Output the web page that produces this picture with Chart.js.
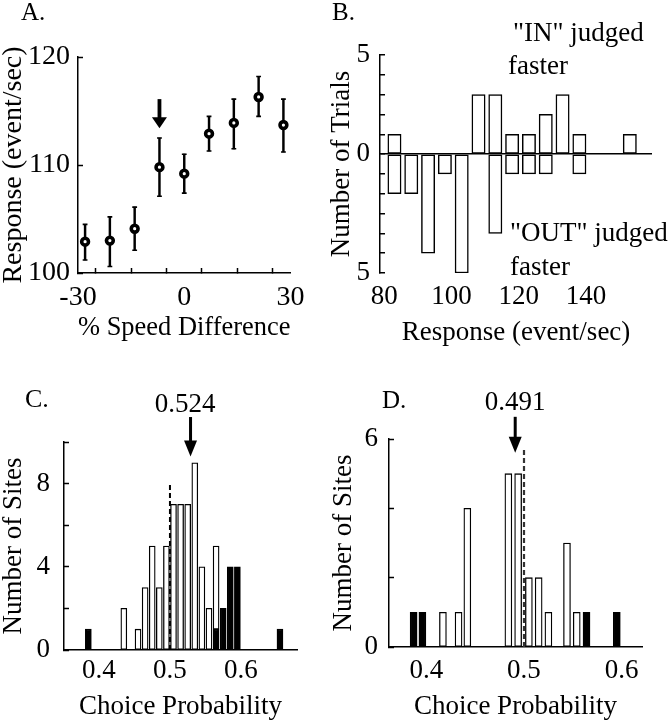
<!DOCTYPE html>
<html><head><meta charset="utf-8">
<script src="https://cdn.jsdelivr.net/npm/chart.js@4.4.1/dist/chart.umd.min.js"></script>
<style>
html,body{margin:0;padding:0;background:#fff;}
body{width:670px;height:720px;position:relative;overflow:hidden;}
canvas{position:absolute;}
</style></head><body>
<canvas id="cA" width="320" height="360" style="left:0px;top:0px"></canvas>
<canvas id="cB" width="345" height="360" style="left:325px;top:0px"></canvas>
<canvas id="cC" width="335" height="350" style="left:0px;top:370px"></canvas>
<canvas id="cD" width="340" height="350" style="left:330px;top:370px"></canvas>
<script>
// ---------- Panel A: response vs % speed difference ----------
const speedDiff     = [-28, -21, -14, -7, 0, 7, 14, 21, 28];
const responseMean  = [102.9, 103.0, 104.1, 109.8, 109.2, 112.9, 113.9, 116.3, 113.7];
const responseLow   = [101.2, 100.6, 102.1, 107.1, 107.4, 111.3, 111.5, 114.5, 111.2];
const responseHigh  = [104.5, 105.2, 106.1, 112.5, 111.0, 114.5, 116.1, 118.2, 116.1];
const xTicksA       = [-30, -20, -10, 0, 10, 20, 30];
const xTickLabelsA  = ['-30', '', '', '0', '', '', '30'];
const yTicksA       = [100, 110, 120];
const yTickLabelsA  = ['100', '110', '120'];
const arrowA        = [-7, 116.1, 113.4];          // x, start, tip

// ---------- Panel B: trials histogram ----------
const responseBins  = [83, 88, 93, 98, 103, 108, 113, 118, 123, 128, 133, 138, 153];
const inFaster      = [1, 0, 0, 0, 0, 3, 3, 1, 1, 2, 3, 1, 1];
const outFaster     = [-2, -2, -5, -1, -6, 0, -4, -1, -1, -1, 0, -1, 0];
const xTicksB       = [80, 100, 120, 140];
const xTickLabelsB  = ['80', '100', '120', '140'];
const yTicksB       = [-6, -5, -4, -3, -2, -1, 0, 1, 2, 3, 4, 5];
const yTickLabelsB  = ['5', '', '', '', '', '', '0', '', '', '', '', '5'];

// ---------- Panel C: choice probability ----------
const cpBinsC       = [0.385, 0.435, 0.455, 0.465, 0.475, 0.485, 0.495, 0.505, 0.515, 0.525, 0.535, 0.545, 0.555, 0.565, 0.575, 0.585, 0.595, 0.655];
const sigC          = [1, 0, 0, 0, 0, 0, 0, 0, 0, 0, 0, 0, 0, 1, 2, 4, 4, 1];
const nonSigC       = [0, 2, 1, 3, 5, 3, 5, 7, 7, 7, 9, 4, 2, 4, 0, 0, 0, 0];
const xTicksCD      = [0.4, 0.5, 0.6];
const xTickLabelsCD = ['0.4', '0.5', '0.6'];
const yTicksC       = [0, 2, 4, 6, 8, 10];
const yTickLabelsC  = ['0', '', '4', '', '8', ''];
const refLineC      = [0.5, 8];                    // x, height
const arrowC        = [0.529, 11.2, 9.3];
const meanLabelC    = '0.524';

// ---------- Panel D: choice probability ----------
const cpBinsD       = [0.387, 0.396, 0.417, 0.433, 0.442, 0.484, 0.494, 0.505, 0.515, 0.525, 0.544, 0.554, 0.564, 0.595];
const sigD          = [1, 1, 0, 0, 0, 0, 0, 0, 0, 0, 0, 0, 1, 1];
const nonSigD       = [0, 0, 1, 1, 4, 5, 5, 2, 2, 1, 3, 1, 0, 0];
const yTicksD       = [0, 2, 4, 6];
const yTickLabelsD  = ['0', '', '', '6'];
const refLineD      = [0.5, 5.7];
const arrowD        = [0.491, 6.64, 5.6];
const meanLabelD    = '0.491';

// ---------- helpers ----------
const FONT = "'Liberation Serif','Times New Roman',Times,serif";
Chart.defaults.font.family = FONT;
Chart.defaults.font.size = 27;
Chart.defaults.color = '#000';
Chart.defaults.animation = false;
Chart.defaults.responsive = false;
Chart.defaults.plugins.legend.display = false;
Chart.defaults.plugins.tooltip.enabled = false;

const fixW = w => s => { s.width = w; };
const fixH = h => s => { s.height = h; };
const setTicks = vals => s => { s.ticks = vals.map(v => ({ value: v })); };
const tickFont = { size: 27, lineHeight: 1 };
const titleFont = { size: 27, lineHeight: 1 };

function notes(cfg) {
  return {
    id: 'notes',
    afterDraw(chart) {
      const ctx = chart.ctx, xs = chart.scales.x, ys = chart.scales.y;
      ctx.save();
      ctx.fillStyle = '#000';
      (cfg.arrows || []).forEach(a => {
        const x = xs.getPixelForValue(a.v[0]);
        const y0 = ys.getPixelForValue(a.v[1]);
        const y1 = ys.getPixelForValue(a.v[2]);
        ctx.fillRect(x - a.shaft / 2, y0, a.shaft, (y1 - a.headH) - y0 + 1);
        ctx.beginPath();
        ctx.moveTo(x - a.headW / 2, y1 - a.headH);
        ctx.lineTo(x + a.headW / 2, y1 - a.headH);
        ctx.lineTo(x, y1);
        ctx.closePath();
        ctx.fill();
      });
      (cfg.texts || []).forEach(t => {
        ctx.font = (t.size || 27) + 'px ' + FONT;
        ctx.textAlign = t.align || 'left';
        ctx.textBaseline = 'alphabetic';
        ctx.fillText(t.t, t.x, t.y);
      });
      ctx.restore();
    }
  };
}

function yAxis(o) {
  return {
    type: 'linear', min: o.min, max: o.max, stacked: o.stacked,
    afterBuildTicks: setTicks(o.ticks), afterFit: fixW(o.width),
    ticks: { callback: (v, i) => o.labels[i], padding: o.pad, autoSkip: false, font: o.font || tickFont },
    grid: Object.assign({ drawOnChartArea: false, tickLength: -5, tickColor: '#000', tickWidth: 1.5 }, o.grid || {}),
    border: { display: o.border !== false, color: '#000', width: 1.5 },
    title: { display: true, text: o.title, font: o.font || titleFont, padding: { top: o.tpad, bottom: 0 } }
  };
}
function xAxis(o) {
  return {
    type: 'linear', min: o.min, max: o.max, offset: false, stacked: o.stacked,
    afterBuildTicks: setTicks(o.ticks), afterFit: fixH(o.height),
    ticks: { callback: (v, i) => o.labels[i], padding: o.pad, autoSkip: false, maxRotation: 0, font: o.font || tickFont },
    grid: o.grid,
    border: { display: o.border !== false, color: '#000', width: 1.5 },
    title: { display: true, text: o.title, font: o.font || titleFont, padding: { top: 0, bottom: o.tpad } }
  };
}
const bigFont = { size: 28, lineHeight: 1 };

// ---------- Chart A ----------
new Chart(document.getElementById('cA'), {
  type: 'scatter',
  data: { datasets: [
    { data: speedDiff.map((x, i) => ({ x, y: responseMean[i] })),
      pointRadius: 3.4, pointHoverRadius: 3.4, borderWidth: 3.6, borderColor: '#000', backgroundColor: '#fff' },
    { data: speedDiff.flatMap((x, i) => [{ x, y: responseLow[i] }, { x, y: responseHigh[i] }]),
      pointStyle: 'line', pointRadius: 2.4, pointHoverRadius: 2.4, borderWidth: 1.6, borderColor: '#000' },
    { type: 'bar', data: speedDiff.map((x, i) => ({ x, y: [responseLow[i], responseHigh[i]] })),
      backgroundColor: '#000', borderWidth: 0, barThickness: 1.8 }
  ]},
  options: {
    layout: { padding: { left: 0, top: 57, right: 28, bottom: 0 } },
    scales: {
      x: xAxis({ min: -30, max: 30, ticks: xTicksA, labels: xTickLabelsA, height: 87, pad: 15.5, font: bigFont,
                 grid: { drawOnChartArea: false, tickLength: -5, tickColor: '#000', tickWidth: 1.5 },
                 title: '% Speed Difference', tpad: 18 }),
      y: yAxis({ min: 100, max: 120, ticks: yTicksA, labels: yTickLabelsA, width: 78, pad: 13, font: bigFont,
                 title: 'Response (event/sec)', tpad: 0 })
    }
  },
  plugins: [notes({
    arrows: [{ v: arrowA, shaft: 3.8, headW: 15, headH: 11 }],
    texts: [{ t: 'A.', x: 21, y: 19.5, size: 25 }]
  })]
});

// ---------- Chart B ----------
new Chart(document.getElementById('cB'), {
  type: 'bar',
  data: { datasets: [
    { data: responseBins.map((x, i) => ({ x, y: inFaster[i] || null })),
      backgroundColor: '#fff', borderColor: '#000', borderWidth: 1.5, borderSkipped: false, barThickness: 13.3 },
    { data: responseBins.map((x, i) => ({ x, y: outFaster[i] || null })),
      backgroundColor: '#fff', borderColor: '#000', borderWidth: 1.5, borderSkipped: false, barThickness: 13.3 }
  ]},
  options: {
    layout: { padding: { left: 0, top: 55, right: 18, bottom: 0 } },
    scales: {
      x: xAxis({ min: 78.7, max: 159.6, stacked: true, ticks: xTicksB, labels: xTickLabelsB, height: 87, pad: 10.5,
                 grid: { display: false, drawTicks: false }, border: false,
                 title: 'Response (event/sec)', tpad: 13.5 }),
      y: yAxis({ min: -6, max: 5, stacked: true, ticks: yTicksB, labels: yTickLabelsB, width: 55, pad: 15,
                 grid: { drawOnChartArea: true, color: c => (c.tick && c.tick.value === 0 ? '#000' : 'rgba(0,0,0,0)'), lineWidth: 1.5 },
                 title: 'Number of Trials', tpad: 3.5 })
    }
  },
  plugins: [notes({
    texts: [
      { t: 'B.', x: 7, y: 20, size: 25 },
      { t: '"IN" judged', x: 188, y: 41 },
      { t: 'faster', x: 183, y: 74 },
      { t: '"OUT" judged', x: 185, y: 241 },
      { t: 'faster', x: 185, y: 275 }
    ]
  })]
});

// ---------- Chart C ----------
new Chart(document.getElementById('cC'), {
  type: 'bar',
  data: { datasets: [
    { type: 'line', stack: 'ref', data: [{ x: refLineC[0], y: 0 }, { x: refLineC[0], y: refLineC[1] }],
      borderColor: '#000', borderWidth: 2, borderDash: [5, 3], pointRadius: 0, fill: false },
    { data: cpBinsC.map((x, i) => ({ x, y: sigC[i] || null })),
      backgroundColor: '#000', borderColor: '#000', borderWidth: 1.3, borderSkipped: false, barThickness: 6 },
    { data: cpBinsC.map((x, i) => ({ x, y: nonSigC[i] || null })),
      backgroundColor: '#fff', borderColor: '#000', borderWidth: 1.3, borderSkipped: false, barThickness: 6 }
  ]},
  options: {
    layout: { padding: { left: 0, top: 72, right: 38, bottom: 0 } },
    scales: {
      x: xAxis({ min: 0.3507, max: 0.679, stacked: true, ticks: xTicksCD, labels: xTickLabelsCD, height: 70, pad: 7.5,
                 grid: { drawOnChartArea: false, drawTicks: false },
                 title: 'Choice Probability', tpad: 0 }),
      y: yAxis({ min: 0, max: 10, stacked: true, ticks: yTicksC, labels: yTickLabelsC, width: 64, pad: 19,
                 title: 'Number of Sites', tpad: 0.5 })
    }
  },
  plugins: [notes({
    arrows: [{ v: arrowC, shaft: 3, headW: 13, headH: 16 }],
    texts: [
      { t: 'C.', x: 25, y: 37, size: 26 },
      { t: meanLabelC, x: 185, y: 42, align: 'center' }
    ]
  })]
});

// ---------- Chart D ----------
new Chart(document.getElementById('cD'), {
  type: 'bar',
  data: { datasets: [
    { type: 'line', stack: 'ref', data: [{ x: refLineD[0], y: 0 }, { x: refLineD[0], y: refLineD[1] }],
      borderColor: '#333', borderWidth: 2.2, borderDash: [5, 3], pointRadius: 0, fill: false },
    { data: cpBinsD.map((x, i) => ({ x, y: sigD[i] || null })),
      backgroundColor: '#000', borderColor: '#000', borderWidth: 1.3, borderSkipped: false, barThickness: 7 },
    { data: cpBinsD.map((x, i) => ({ x, y: nonSigD[i] || null })),
      backgroundColor: '#fff', borderColor: '#000', borderWidth: 1.3, borderSkipped: false, barThickness: 7 }
  ]},
  options: {
    layout: { padding: { left: 0, top: 69, right: 28, bottom: 0 } },
    scales: {
      x: xAxis({ min: 0.3618, max: 0.6208, stacked: true, ticks: xTicksCD, labels: xTickLabelsCD, height: 73, pad: 10.5,
                 grid: { drawOnChartArea: false, drawTicks: false },
                 title: 'Choice Probability', tpad: 0 }),
      y: yAxis({ min: 0, max: 6, stacked: true, ticks: yTicksD, labels: yTickLabelsD, width: 59, pad: 16,
                 title: 'Number of Sites', tpad: 0 })
    }
  },
  plugins: [notes({
    arrows: [{ v: arrowD, shaft: 3, headW: 13, headH: 16 }],
    texts: [
      { t: 'D.', x: 52, y: 38, size: 25 },
      { t: meanLabelD, x: 185, y: 40, align: 'center' }
    ]
  })]
});
</script>
</body></html>
